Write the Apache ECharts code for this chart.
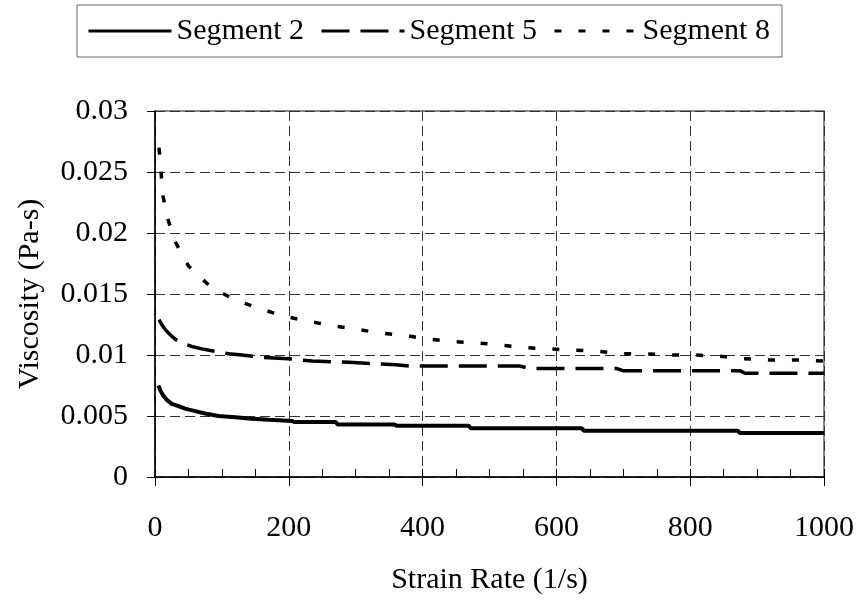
<!DOCTYPE html>
<html>
<head>
<meta charset="utf-8">
<script src="https://cdn.jsdelivr.net/npm/echarts@6/dist/echarts.min.js"></script>
<style>
  html, body { margin: 0; padding: 0; background: #fff; }
  #chart { width: 860px; height: 605px; }
</style>
</head>
<body>
<div id="chart"></div>
<script>
// Viscosity vs. strain rate for three segments
const seriesNames = ['Segment 2', 'Segment 5', 'Segment 8'];

const seg2Rate = [5, 8, 12, 18, 25, 35, 45, 60, 75, 95, 120, 140, 170, 205, 208, 270, 273, 358, 361, 469, 472, 638, 641, 871, 874, 1000];
const seg2Visc = [0.0075, 0.0071, 0.0067, 0.0063, 0.0060, 0.0058, 0.0056, 0.0054, 0.0052, 0.0050, 0.0049, 0.0048, 0.0047, 0.0046, 0.0045, 0.0045, 0.0043, 0.0043, 0.0042, 0.0042, 0.0040, 0.0040, 0.0038, 0.0038, 0.0036, 0.0036];

const seg5Rate = [6, 10, 15, 22, 30, 40, 55, 70, 90, 110, 130, 160, 200, 235, 290, 360, 380, 545, 560, 690, 700, 875, 882, 1000];
const seg5Visc = [0.0129, 0.0125, 0.0121, 0.0117, 0.0113, 0.0110, 0.0107, 0.0105, 0.0103, 0.0101, 0.0100, 0.0098, 0.0097, 0.0095, 0.0094, 0.0092, 0.0091, 0.0091, 0.0089, 0.0089, 0.0087, 0.0087, 0.0085, 0.0085];

const seg8Rate = [6, 9, 12, 20, 30, 50, 83, 120, 157, 191, 226, 265, 302, 337, 374, 409, 444, 481, 518, 555, 591, 625, 662, 699, 732, 770, 808, 843, 880, 918, 955, 1000];
const seg8Visc = [0.0270, 0.0250, 0.0230, 0.0210, 0.0193, 0.0173, 0.0156, 0.0145, 0.0138, 0.0132, 0.0128, 0.0124, 0.0121, 0.0118, 0.0116, 0.0113, 0.0111, 0.0110, 0.0108, 0.0106, 0.0105, 0.0104, 0.0103, 0.0101, 0.0101, 0.0100, 0.0100, 0.0099, 0.0097, 0.0096, 0.0096, 0.0095];

const xTickLabels = ['0', '200', '400', '600', '800', '1000'];
const yTickLabels = ['0', '0.005', '0.01', '0.015', '0.02', '0.025', '0.03'];

const FONT = 'Liberation Serif, Times New Roman, serif';

function pairs(xs, ys) {
  return xs.map((x, i) => [x, ys[i]]);
}

const chart = echarts.init(document.getElementById('chart'), null, { renderer: 'canvas' });

chart.setOption({
  animation: false,
  backgroundColor: '#fff',
  textStyle: { fontFamily: FONT, color: '#000' },
  legend: {
    left: 77,
    top: 5,
    width: 702,
    padding: [11, 12, 11, 10],
    borderColor: '#666',
    borderWidth: 1,
    itemGap: 16,
    itemWidth: 83,
    itemHeight: 14,
    // plain line keys: hide the marker drawn in the middle of each key
    itemStyle: { opacity: 0 },
    lineStyle: { width: 3 },
    textStyle: { fontFamily: FONT, fontSize: 30, color: '#000' },
    data: seriesNames
  },
  grid: {
    left: 155,
    right: 36,
    top: 111,
    bottom: 128,
    show: true,
    borderColor: '#888',
    borderWidth: 2,
    containLabel: false
  },
  xAxis: [
    {
      type: 'value',
      min: 0,
      max: 1000,
      interval: 200,
      name: 'Strain Rate (1/s)',
      nameLocation: 'middle',
      nameGap: 88,
      nameTextStyle: { fontFamily: FONT, fontSize: 30, color: '#000' },
      axisLine: { show: true, lineStyle: { color: '#000', width: 1.5 } },
      axisTick: { show: true, inside: false, length: 9, lineStyle: { color: '#000', width: 1 } },
      axisLabel: {
        margin: 36,
        fontFamily: FONT,
        fontSize: 30,
        color: '#000',
        formatter: (v) => xTickLabels[Math.round(v / 200)]
      },
      splitLine: { show: true, lineStyle: { color: '#333', width: 1, type: [10, 5] } }
    },
    {
      type: 'value',
      min: 0,
      max: 1000,
      interval: 50,
      position: 'bottom',
      axisLine: { show: false },
      axisTick: { show: true, inside: true, length: 8, lineStyle: { color: '#000', width: 1 } },
      axisLabel: { show: false },
      splitLine: { show: false }
    }
  ],
  yAxis: {
    type: 'value',
    min: 0,
    max: 0.03,
    interval: 0.005,
    name: 'Viscosity (Pa-s)',
    nameLocation: 'middle',
    nameRotate: 90,
    nameGap: 110,
    nameTextStyle: { fontFamily: FONT, fontSize: 30, color: '#000' },
    axisLine: { show: true, lineStyle: { color: '#000', width: 1.5 } },
    axisTick: { show: true, inside: false, length: 8, lineStyle: { color: '#000', width: 1 } },
    axisLabel: {
      margin: 27,
      fontFamily: FONT,
      fontSize: 30,
      color: '#000',
      formatter: (v) => yTickLabels[Math.round(v / 0.005)]
    },
    splitLine: { show: true, lineStyle: { color: '#333', width: 1, type: [10, 5] } }
  },
  series: [
    {
      name: seriesNames[0],
      type: 'line',
      xAxisIndex: 0,
      data: pairs(seg2Rate, seg2Visc),
      symbol: 'none',
      showSymbol: false,
      smooth: false,
      lineStyle: { color: '#000', width: 4, type: 'solid' },
      itemStyle: { color: '#000' }
    },
    {
      name: seriesNames[1],
      type: 'line',
      xAxisIndex: 0,
      data: pairs(seg5Rate, seg5Visc),
      symbol: 'none',
      showSymbol: false,
      lineStyle: { color: '#000', width: 3.5, type: [28, 11] },
      itemStyle: { color: '#000' }
    },
    {
      name: seriesNames[2],
      type: 'line',
      xAxisIndex: 0,
      data: pairs(seg8Rate, seg8Visc),
      symbol: 'none',
      showSymbol: false,
      lineStyle: { color: '#000', width: 3.5, type: [7, 17] },
      itemStyle: { color: '#000' }
    }
  ]
});
</script>
</body>
</html>
